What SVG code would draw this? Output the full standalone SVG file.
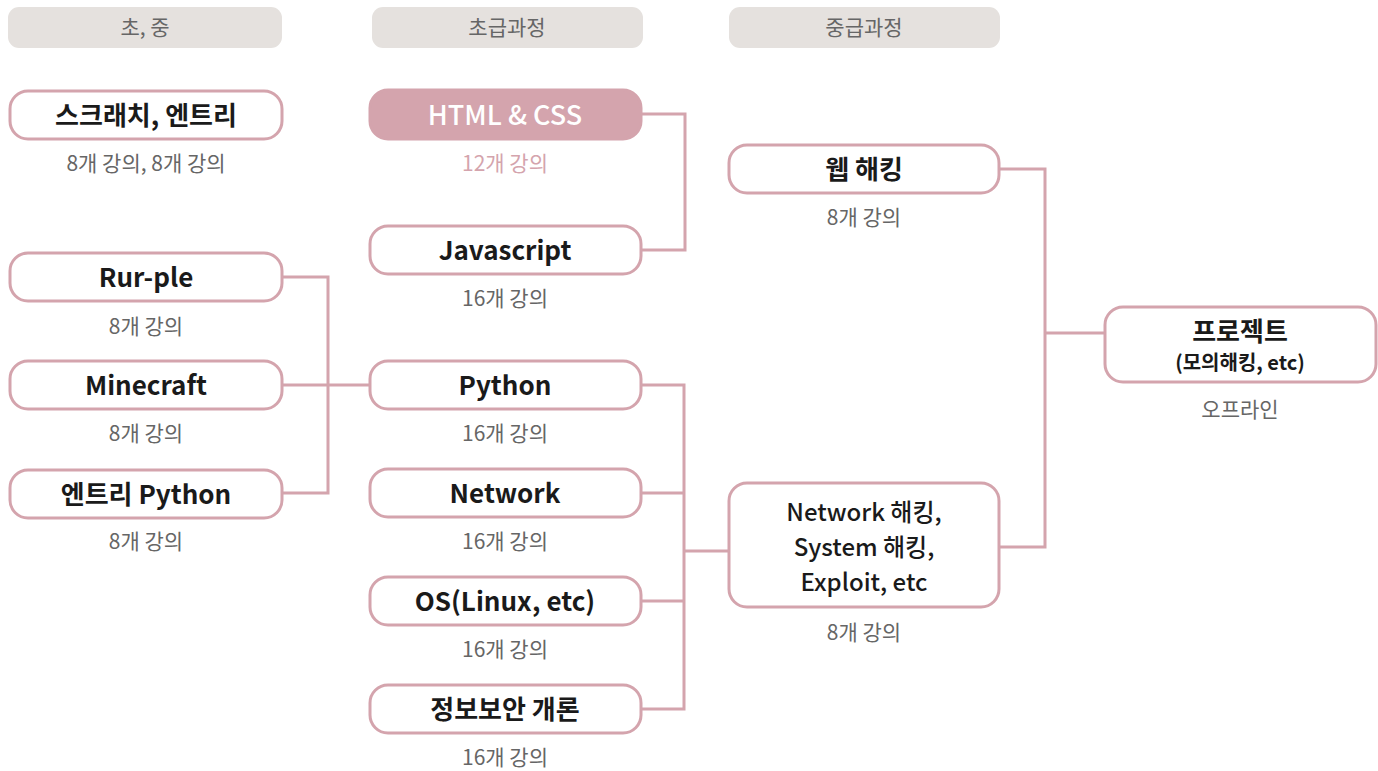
<svg xmlns="http://www.w3.org/2000/svg" width="1378" height="771" viewBox="0 0 1378 771">
<style>
.hdr{fill:#e5e1de}
.hdrt{font-family:"Noto Sans CJK KR","Noto Sans",sans-serif;font-size:21px;fill:#666;text-anchor:middle}
.box{fill:#fff;stroke:#d4a4ad;stroke-width:3}
.boxf{fill:#d4a4ad;stroke:#d4a4ad;stroke-width:3}
.lbl{font-family:"Noto Sans CJK KR","Noto Sans",sans-serif;font-size:26px;font-weight:700;fill:#1a1a1a;text-anchor:middle}
.lat{font-weight:600}
.multi{font-weight:500;font-size:24px}
.lblw{font-family:"Noto Sans CJK KR","Noto Sans",sans-serif;font-size:27px;font-weight:500;fill:#fff;text-anchor:middle}
.cap{font-family:"Noto Sans CJK KR","Noto Sans",sans-serif;font-size:21px;fill:#666;text-anchor:middle}
.capp{font-family:"Noto Sans CJK KR","Noto Sans",sans-serif;font-size:21px;fill:#d4a4ad;text-anchor:middle}
.con{fill:none;stroke:#d4a4ad;stroke-width:3}
</style>
<g id="headers">
<rect class="hdr" x="8" y="7" width="274" height="41" rx="11"/>
<text class="hdrt" x="145" y="35">초, 중</text>
<rect class="hdr" x="372" y="7" width="271" height="41" rx="11"/>
<text class="hdrt" x="507" y="35">초급과정</text>
<rect class="hdr" x="729" y="7" width="271" height="41" rx="11"/>
<text class="hdrt" x="864" y="35">중급과정</text>
</g>
<g id="connectors">
<path class="con" d="M282 277 H328 V493 H282"/>
<path class="con" d="M282 385 H370"/>
<path class="con" d="M641 114 H685 V250 H641"/>
<path class="con" d="M641 385 H684 V709 H641"/>
<path class="con" d="M641 493 H684"/>
<path class="con" d="M641 601 H684"/>
<path class="con" d="M684 551 H729"/>
<path class="con" d="M999 169 H1045 V547 H999"/>
<path class="con" d="M1045 333 H1105"/>
</g>
<g id="scratch">
<rect class="box" x="10" y="91" width="272" height="48" rx="18"/>
<text class="lbl" x="146" y="125">스크래치, 엔트리</text>
<text class="cap" x="146" y="171">8개 강의, 8개 강의</text>
</g>
<g id="rurple">
<rect class="box" x="10" y="253" width="272" height="48" rx="18"/>
<text class="lbl lat" x="146" y="287">Rur-ple</text>
<text class="cap" x="146" y="334">8개 강의</text>
</g>
<g id="minecraft">
<rect class="box" x="10" y="361" width="272" height="48" rx="18"/>
<text class="lbl lat" x="146" y="395">Minecraft</text>
<text class="cap" x="146" y="441">8개 강의</text>
</g>
<g id="entrypython">
<rect class="box" x="10" y="470" width="272" height="48" rx="18"/>
<text class="lbl" x="146" y="504">엔트리 Python</text>
<text class="cap" x="146" y="549">8개 강의</text>
</g>
<g id="htmlcss">
<rect class="boxf" x="370" y="90" width="271" height="49" rx="18"/>
<text class="lblw" x="505" y="125">HTML &amp; CSS</text>
<text class="capp" x="505" y="171">12개 강의</text>
</g>
<g id="javascript">
<rect class="box" x="370" y="226" width="271" height="48" rx="18"/>
<text class="lbl lat" x="505" y="260">Javascript</text>
<text class="cap" x="505" y="306">16개 강의</text>
</g>
<g id="python">
<rect class="box" x="370" y="361" width="271" height="48" rx="18"/>
<text class="lbl lat" x="505" y="395">Python</text>
<text class="cap" x="505" y="441">16개 강의</text>
</g>
<g id="network">
<rect class="box" x="370" y="469" width="271" height="48" rx="18"/>
<text class="lbl lat" x="505" y="503">Network</text>
<text class="cap" x="505" y="549">16개 강의</text>
</g>
<g id="os">
<rect class="box" x="370" y="577" width="271" height="48" rx="18"/>
<text class="lbl lat" x="505" y="611">OS(Linux, etc)</text>
<text class="cap" x="505" y="657">16개 강의</text>
</g>
<g id="security">
<rect class="box" x="370" y="685" width="271" height="48" rx="18"/>
<text class="lbl" x="505" y="719">정보보안 개론</text>
<text class="cap" x="505" y="765">16개 강의</text>
</g>
<g id="webhacking">
<rect class="box" x="729" y="145" width="270" height="48" rx="18"/>
<text class="lbl" x="864" y="179">웹 해킹</text>
<text class="cap" x="864" y="225">8개 강의</text>
</g>
<g id="nethacking">
<rect class="box" x="729" y="483" width="270" height="124" rx="18"/>
<text class="lbl multi" x="864" y="521">Network 해킹,</text>
<text class="lbl multi" x="864" y="556">System 해킹,</text>
<text class="lbl multi" x="864" y="591">Exploit, etc</text>
<text class="cap" x="864" y="640">8개 강의</text>
</g>
<g id="project">
<rect class="box" x="1105" y="307" width="271" height="75" rx="18"/>
<text class="lbl" x="1240" y="341">프로젝트</text>
<text class="lbl" x="1240" y="370" style="font-size:20px">(모의해킹, etc)</text>
<text class="cap" x="1240" y="417">오프라인</text>
</g>
</svg>
